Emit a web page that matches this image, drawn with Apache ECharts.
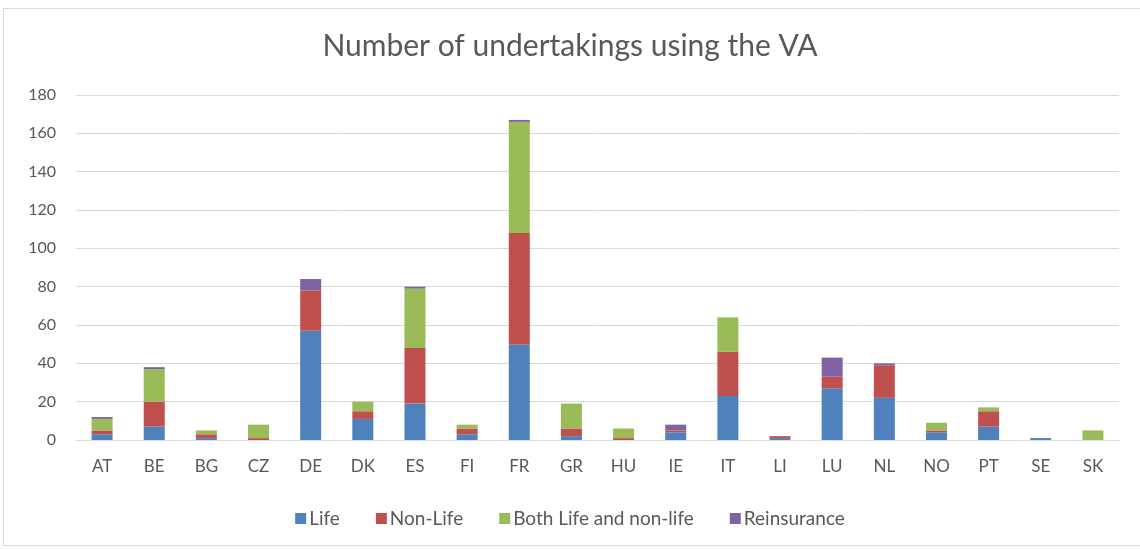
<!DOCTYPE html>
<html>
<head>
<meta charset="utf-8">
<script src="https://cdn.jsdelivr.net/npm/echarts@6/dist/echarts.min.js"></script>
<style>
  html, body { margin: 0; padding: 0; background: #fff; }
  #frame { position: absolute; left: 3px; top: 8px; width: 1150px; height: 536px; border: 1px solid #d9d9d9; }
  #main { position: absolute; left: 0; top: 0; width: 1140px; height: 549px; }
</style>
</head>
<body>
<div id="frame"></div>
<div id="main"></div>
<script>
// 数据
var countries = ['AT','BE','BG','CZ','DE','DK','ES','FI','FR','GR','HU','IE','IT','LI','LU','NL','NO','PT','SE','SK'];
var life        = [3, 7, 1, 0, 57, 11, 19, 3, 50, 2, 0, 4, 23, 1, 27, 22, 4, 7, 1, 0];
var nonLife     = [2, 13, 2, 1, 21, 4, 29, 3, 58, 4, 1, 1, 23, 1, 6, 17, 1, 8, 0, 0];
var both        = [6, 17, 2, 7, 0, 5, 31, 2, 58, 13, 5, 0, 18, 0, 0, 0, 4, 2, 0, 5];
var reinsurance = [1, 1, 0, 0, 6, 0, 1, 0, 1, 0, 0, 3, 0, 0, 10, 1, 0, 0, 0, 0];

var seriesNames = ['Life', 'Non-Life', 'Both Life and non-life', 'Reinsurance'];
var seriesColors = ['#4F81BD', '#C0504D', '#9BBB59', '#8064A2'];
var seriesData = [life, nonLife, both, reinsurance];

var FONT = 'Lato';
var myChart = echarts.init(document.getElementById('main'));

var series = [];
for (var i = 0; i < seriesNames.length; i++) {
    series.push({
        name: seriesNames[i],
        type: 'bar',
        stack: 'total',
        barWidth: 21,
        itemStyle: { color: seriesColors[i] },
        data: seriesData[i]
    });
}

var option = {
    animation: false,
    textStyle: { fontFamily: FONT },
    title: {
        text: 'Number of undertakings using the VA',
        left: 'center',
        top: 26,
        textStyle: { fontFamily: FONT, fontSize: 30, fontWeight: 'normal', color: '#595959' }
    },
    legend: {
        data: seriesNames,
        top: 504,
        left: 'center',
        icon: 'rect',
        itemWidth: 11,
        itemHeight: 11,
        itemGap: 36,
        textStyle: { fontFamily: FONT, fontSize: 19, color: '#595959', padding: [0, 0, 0, -2] }
    },
    grid: { left: 76, right: 21, top: 95, bottom: 109, containLabel: false },
    xAxis: {
        type: 'category',
        data: countries,
        axisLine: { lineStyle: { color: '#d9d9d9' } },
        axisTick: { show: false },
        axisLabel: { fontFamily: FONT, fontSize: 17, color: '#595959', margin: 18 }
    },
    yAxis: {
        type: 'value',
        min: 0,
        max: 180,
        interval: 20,
        axisLine: { show: false },
        axisTick: { show: false },
        splitLine: { lineStyle: { color: '#d9d9d9', width: 1 } },
        axisLabel: { fontFamily: FONT, fontSize: 16, color: '#595959', margin: 20 }
    },
    series: series
};

myChart.setOption(option);
</script>
</body>
</html>
